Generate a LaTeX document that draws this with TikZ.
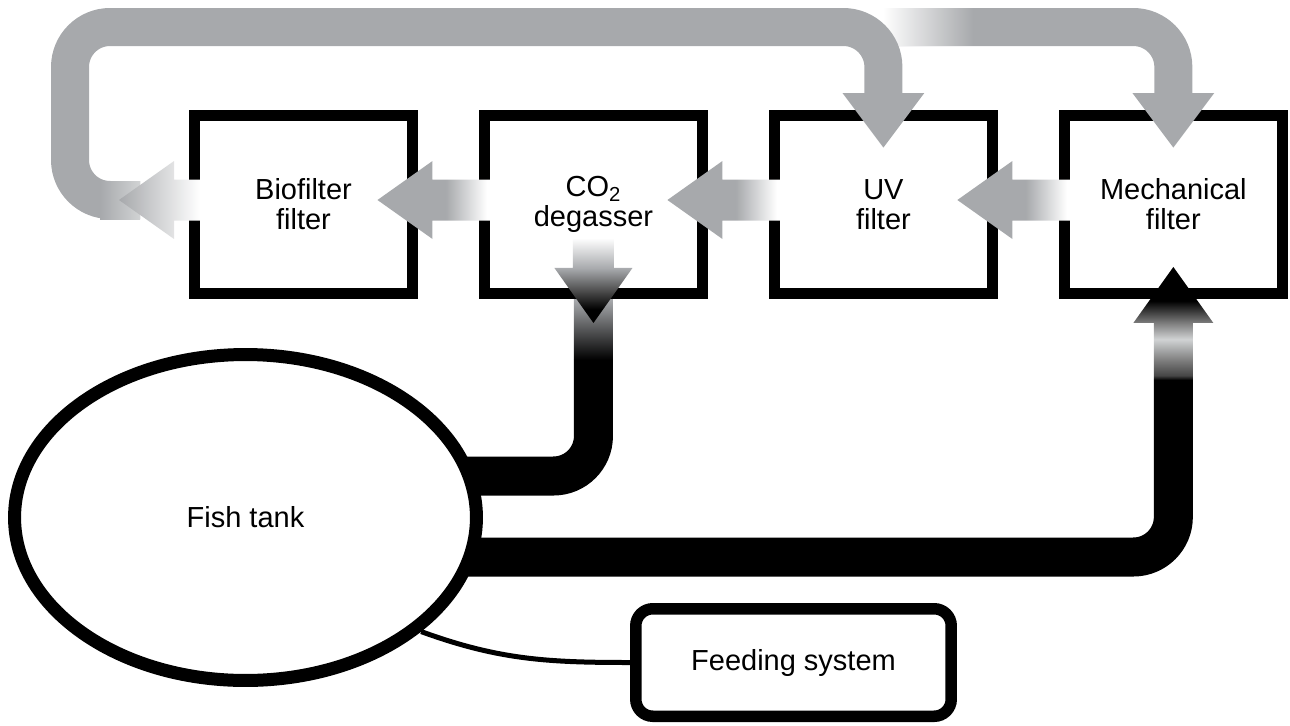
\documentclass[tikz,border=0pt]{standalone}
\usepackage{fontspec}
\setmainfont{Liberation Sans}
\usetikzlibrary{arrows.meta,%
                positioning,%
                calc,%
                shapes.geometric,%
                fadings,%
                backgrounds}

\definecolor{PipeGray}{RGB}{167,169,172}
\definecolor{PaleGray}{RGB}{209,211,212}
\definecolor{ShadeMid}{RGB}{128,128,128}
\definecolor{ShadeDark}{RGB}{70,70,70}

\pgfdeclarehorizontalshading{FlowLeft}{100bp}{color(0bp)=(PipeGray); color(55bp)=(PipeGray); color(73bp)=(white); color(100bp)=(white)}
\pgfdeclareverticalshading{SinkDown}{100bp}{color(0bp)=(black); color(33bp)=(black); color(43bp)=(ShadeDark); color(57bp)=(PipeGray); color(75bp)=(white); color(100bp)=(white)}
\pgfdeclareverticalshading{RiseUp}{100bp}{color(0bp)=(black); color(25bp)=(black); color(27bp)=(ShadeDark); color(34bp)=(ShadeMid); color(43bp)=(PaleGray); color(50bp)=(ShadeMid); color(60bp)=(black); color(100bp)=(black)}

\begin{document}
\begin{tikzpicture}[x=0.02cm, y=0.02cm]
  \tikzstyle{every node} = [font=\fontsize{16.5}{17}\selectfont]
\tikzset{BoxStyle/.style={draw, line width=0.22cm, fill=white,
                          minimum width=4.36cm, minimum height=3.56cm,
                          inner sep=0pt, outer sep=0pt, align=center}}
\tikzset{TankStyle/.style={ellipse, draw, line width=0.26cm, fill=white,
                           minimum width=9.24cm, minimum height=6.52cm, inner sep=0pt}}
\tikzset{FeedStyle/.style={draw, line width=0.23cm, fill=white, rounded corners=0.34cm,
                           minimum width=6.31cm, minimum height=2.15cm, inner sep=0pt}}
\tikzstyle{GrayPipe} = [draw=PipeGray, line width=0.76cm, rounded corners=0.8cm]
\tikzstyle{BlackPipe} = [draw=black, line width=0.78cm, rounded corners=0.8cm]
\tikzstyle{FeedLine} = [draw=black, line width=0.1cm]
\useasboundingbox (0,0) rectangle (1290,725);

\node[BoxStyle] (Bio) at (303.5,520.5) {Biofilter\\filter};
\node[BoxStyle, right=1.44cm of Bio] (CO2) {CO\textsubscript{2}\\degasser};
\node[BoxStyle, right=1.44cm of CO2] (UV) {UV\\filter};
\node[BoxStyle, right=1.44cm of UV] (Mech) {Mechanical\\filter};
\node[TankStyle] (Tank) at (245.5,207.5) {Fish tank};
\node[FeedStyle] (Feed) at (793.5,62.5) {Feeding system};

% water from and to the tank
\begin{scope}[on background layer]
  \draw[BlackPipe] ($(Tank.center)+(0,41.5)$) -| ($(CO2.south)+(0,-66.5)$);
  \draw[BlackPipe] ($(Tank.center)+(0,-39.5)$) -| ($(Mech.south)+(0,-86.5)$);
\end{scope}
\shade[bottom color=black, top color=PipeGray] ($(CO2.south)+(-19.5,-66.5)$) rectangle ($(CO2.south)+(19.5,-6.5)$);
\shade[shading=SinkDown] ($(CO2.south)+(0,-29.5)$) -- ++(39,55) -- ++(-18.5,0) -- ++(0,30)
  -- ++(-41,0) -- ++(0,-30) -- ++(-18.5,0) -- cycle;
\shade[shading=RiseUp] ($(Mech.south)+(0,26.5)$) -- ++(40,-56) -- ++(-20.5,0) -- ++(0,-57)
  -- ++(-39,0) -- ++(0,57) -- ++(-20.5,0) -- cycle;

% return loop over the top
\draw[GrayPipe, -{Triangle[length=1.1cm, width=1.56cm]}] ($(UV.north)+(0,88.5)$) -| ($(Mech.north)+(0,-32.5)$);
\fill[white, path fading=east] ($(UV.north)+(0,69.5)$) rectangle ($(UV.north)+(90,107.5)$);
\draw[GrayPipe, -{Triangle[length=1.1cm, width=1.56cm]}] ($(Bio.west)+(-54.5,4.5)$) -- ++(-70,0)
  |- ($(UV.north)+(0,88.5)$) -- ($(UV.north)+(0,-32.5)$);
\shade[left color=PipeGray, right color=PaleGray] ($(Bio.west)+(-94.5,-14.5)$) rectangle ($(Bio.west)+(-54.5,23.5)$);
\shade[left color=PipeGray, right color=white] ($(Bio.west)+(-75.5,4.5)$) -- ++(55,39) -- ++(0,-18.5)
  -- ++(26,0) -- ++(0,-41) -- ++(-26,0) -- ++(0,-18.5) -- cycle;

% flow from box to box
\shade[shading=FlowLeft] ($(UV.east)+(-35,4.5)$) -- ++(55,39) -- ++(0,-18.5) -- ++(59,0)
  -- ++(0,-41) -- ++(-59,0) -- ++(0,-18.5) -- cycle;
\shade[shading=FlowLeft] ($(CO2.east)+(-35,4.5)$) -- ++(55,39) -- ++(0,-18.5) -- ++(59,0)
  -- ++(0,-41) -- ++(-59,0) -- ++(0,-18.5) -- cycle;
\shade[shading=FlowLeft] ($(Bio.east)+(-35,4.5)$) -- ++(55,39) -- ++(0,-18.5) -- ++(59,0)
  -- ++(0,-41) -- ++(-59,0) -- ++(0,-18.5) -- cycle;

\draw[FeedLine] (Tank.-33) to[out=-20, in=180] (Feed.west);

\end{tikzpicture}
\end{document}
